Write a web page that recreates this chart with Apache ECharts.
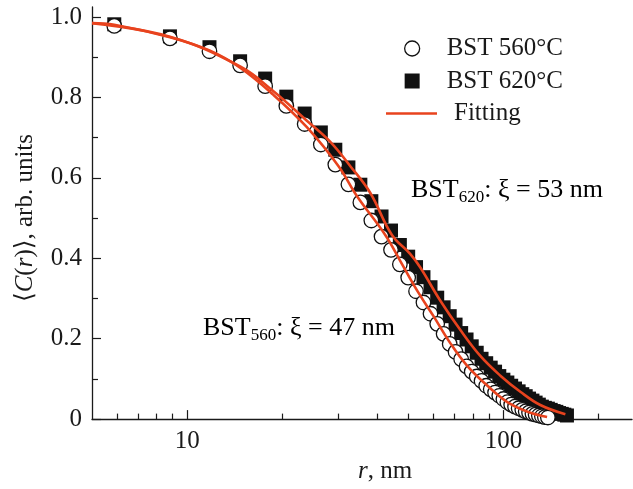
<!DOCTYPE html>
<html>
<head>
<meta charset="utf-8">
<script src="https://cdn.jsdelivr.net/npm/echarts@6/dist/echarts.min.js"></script>
<style>
html,body{margin:0;padding:0;background:#fff;}
#chart{width:633px;height:489px;}
</style>
</head>
<body>
<div id="chart"></div>
<script>
// r values (nm) of the measured points
const rValues = [5.88, 8.82, 11.76, 14.70, 17.64, 20.58, 23.52, 26.46, 29.40, 32.34, 35.28, 38.22, 41.16, 44.10, 47.04, 49.98, 52.92, 55.86, 58.80, 61.74, 64.68, 67.62, 70.56, 73.50, 76.44, 79.38, 82.32, 85.26, 88.20, 91.14, 94.08, 97.02, 99.96, 102.9, 105.8, 108.8, 111.7, 114.7, 117.6, 120.5, 123.5, 126.4, 129.4, 132.3, 135.2, 138.2, 141.1, 144.1, 147.0, 149.9, 152.9, 155.8, 158.8];
// BST 560°C (open circles)
const c560 = [0.978, 0.947, 0.915, 0.880, 0.828, 0.779, 0.734, 0.683, 0.633, 0.584, 0.539, 0.494, 0.454, 0.421, 0.385, 0.352, 0.318, 0.290, 0.262, 0.237, 0.212, 0.187, 0.167, 0.149, 0.131, 0.118, 0.106, 0.095, 0.083, 0.074, 0.066, 0.058, 0.050, 0.042, 0.036, 0.031, 0.027, 0.023, 0.019, 0.016, 0.013, 0.011, 0.009, 0.007, 0.005, 0.004];
// BST 620°C (filled squares)
const c620 = [0.982, 0.952, 0.925, 0.890, 0.847, 0.802, 0.760, 0.713, 0.670, 0.626, 0.583, 0.542, 0.504, 0.469, 0.433, 0.404, 0.378, 0.353, 0.328, 0.302, 0.278, 0.256, 0.235, 0.214, 0.198, 0.181, 0.165, 0.150, 0.139, 0.128, 0.118, 0.107, 0.098, 0.091, 0.083, 0.076, 0.069, 0.062, 0.057, 0.051, 0.046, 0.041, 0.036, 0.031, 0.028, 0.026, 0.023, 0.020, 0.018, 0.015, 0.013, 0.011, 0.009];
// Fitting curves
const fitR560 = [5, 5.88, 8.82, 11.76, 14.7, 18.7, 23.9, 30.1, 34.4, 42.3, 47.2, 53.3, 60.1, 67.9, 76.7, 88.7, 102.6, 118.7, 137.4];
const fitC560 = [0.985, 0.981, 0.950, 0.917, 0.874, 0.807, 0.726, 0.629, 0.555, 0.458, 0.393, 0.320, 0.256, 0.189, 0.133, 0.084, 0.043, 0.019, 0.005];
const fitR620 = [5, 8.82, 14.7, 18.7, 23.9, 28.3, 32.8, 37.9, 44.4, 50.7, 54.6, 63.1, 73.0, 84.5, 97.8, 113.1, 130.8, 157];
const fitC620 = [0.985, 0.951, 0.877, 0.816, 0.742, 0.690, 0.629, 0.563, 0.458, 0.411, 0.377, 0.295, 0.222, 0.157, 0.108, 0.068, 0.035, 0.012];
// Axis ticks
const xMajorTicks = [10, 100];
const xMinorTicks = [6, 7, 8, 9, 20, 30, 40, 50, 60, 70, 80, 90, 200];
const yMajorTicks = [0, 0.2, 0.4, 0.6, 0.8, 1.0];
const yMinorTicks = [0.1, 0.3, 0.5, 0.7, 0.9];

const FONT = "'Liberation Serif','DejaVu Serif',serif";
const INK = '#1a1a1a';
const RED = '#e8431e';

const pair = (xs, ys) => ys.map((y, i) => [xs[i], y]);

const chart = echarts.init(document.getElementById('chart'), null, {renderer: 'canvas'});
const xBase = {type: 'log', logBase: 10, min: 5, max: 255, gridIndex: 0, position: 'bottom'};
const yBase = {type: 'value', min: 0, max: 1.025, gridIndex: 0, position: 'left', splitLine: {show: false}};

chart.setOption({
  animation: false,
  backgroundColor: '#fff',
  grid: {left: 92, right: 1, top: 7, bottom: 61},
  xAxis: [
    Object.assign({}, xBase, {
      axisLine: {lineStyle: {color: INK, width: 1.3}},
      axisTick: {inside: true, length: 9, customValues: xMajorTicks, lineStyle: {color: INK, width: 1.2}},
      axisLabel: {customValues: xMajorTicks, color: INK, fontFamily: FONT, fontSize: 25, margin: 10},
      minorTick: {show: false},
      splitLine: {show: false},
      name: '{i|r}, nm',
      nameLocation: 'middle',
      nameGap: 36,
      nameTextStyle: {color: INK, fontFamily: FONT, fontSize: 25, padding: [0, 0, 0, 46],
        rich: {i: {fontStyle: 'italic', fontFamily: FONT, fontSize: 25, color: INK}}}
    }),
    Object.assign({}, xBase, {
      axisLine: {show: false},
      axisTick: {inside: true, length: 5.5, customValues: xMinorTicks, lineStyle: {color: INK, width: 1.2}},
      axisLabel: {show: false},
      splitLine: {show: false}
    })
  ],
  yAxis: [
    Object.assign({}, yBase, {
      axisLine: {show: true, lineStyle: {color: INK, width: 1.3}},
      axisTick: {show: true, inside: true, length: 9, customValues: yMajorTicks, lineStyle: {color: INK, width: 1.2}},
      axisLabel: {customValues: yMajorTicks, color: INK, fontFamily: FONT, fontSize: 25, margin: 10,
        formatter: v => v === 0 ? '0' : v.toFixed(1)},
      name: '⟨{i|C}({i|r})⟩, arb. units',
      nameLocation: 'middle',
      nameGap: 54,
      nameTextStyle: {color: INK, fontFamily: FONT, fontSize: 25, padding: [0, 10, 0, 0],
        rich: {i: {fontStyle: 'italic', fontFamily: FONT, fontSize: 25, color: INK}}}
    }),
    Object.assign({}, yBase, {
      axisLine: {show: false},
      axisTick: {show: true, inside: true, length: 6, customValues: yMinorTicks, lineStyle: {color: INK, width: 1.2}},
      axisLabel: {show: false}
    })
  ],
  legend: [
    {
      orient: 'vertical',
      left: 399,
      top: 31,
      itemWidth: 15,
      itemHeight: 15,
      itemGap: 7.5,
      data: [
        {name: 'BST 560°C', icon: 'circle', itemStyle: {color: '#fff', borderColor: '#111', borderWidth: 1.3}},
        {name: 'BST 620°C', icon: 'rect', itemStyle: {color: '#111', borderWidth: 0, opacity: 1}}
      ],
      textStyle: {color: INK, fontFamily: FONT, fontSize: 25, padding: [0, 0, 0, 22]}
    },
    {
      orient: 'vertical',
      left: 381,
      top: 96,
      itemWidth: 51,
      itemHeight: 2.5,
      data: [{name: 'Fitting', icon: 'rect', itemStyle: {color: RED}}],
      textStyle: {color: INK, fontFamily: FONT, fontSize: 25, padding: [0, 0, 0, 12]}
    }
  ],
  series: [
    {
      name: 'BST 620°C', type: 'scatter', xAxisIndex: 0, yAxisIndex: 0,
      symbol: 'rect', symbolSize: 14,
      itemStyle: {color: '#111', borderWidth: 0, opacity: 1},
      data: pair(rValues, c620), z: 2
    },
    {
      name: 'BST 560°C', type: 'scatter', xAxisIndex: 0, yAxisIndex: 0,
      symbol: 'circle', symbolSize: 14.5,
      itemStyle: {color: '#fff', borderColor: '#111', borderWidth: 1.3, opacity: 1},
      data: pair(rValues, c560), z: 3
    },
    {
      name: 'Fitting', type: 'line', xAxisIndex: 0, yAxisIndex: 0,
      showSymbol: false, symbol: 'none', smooth: 0.4,
      lineStyle: {color: RED, width: 2.6}, itemStyle: {color: RED},
      data: pair(fitR560, fitC560), z: 4
    },
    {
      name: 'Fitting', type: 'line', xAxisIndex: 0, yAxisIndex: 0,
      showSymbol: false, symbol: 'none', smooth: 0.4,
      lineStyle: {color: RED, width: 2.6}, itemStyle: {color: RED},
      data: pair(fitR620, fitC620), z: 4
    }
  ],
  graphic: [
    {
      type: 'text', left: 411, top: 175,
      style: {
        text: '{n|BST}{s|620}{n|: ξ = 53 nm}',
        rich: {
          n: {fontFamily: FONT, fontSize: 26, color: INK, lineHeight: 30},
          s: {fontFamily: FONT, fontSize: 17, color: INK, lineHeight: 20, padding: [14, 0, 0, 0]}
        }
      }
    },
    {
      type: 'text', left: 203, top: 313,
      style: {
        text: '{n|BST}{s|560}{n|: ξ = 47 nm}',
        rich: {
          n: {fontFamily: FONT, fontSize: 26, color: INK, lineHeight: 30},
          s: {fontFamily: FONT, fontSize: 17, color: INK, lineHeight: 20, padding: [14, 0, 0, 0]}
        }
      }
    }
  ]
});
</script>
</body>
</html>
